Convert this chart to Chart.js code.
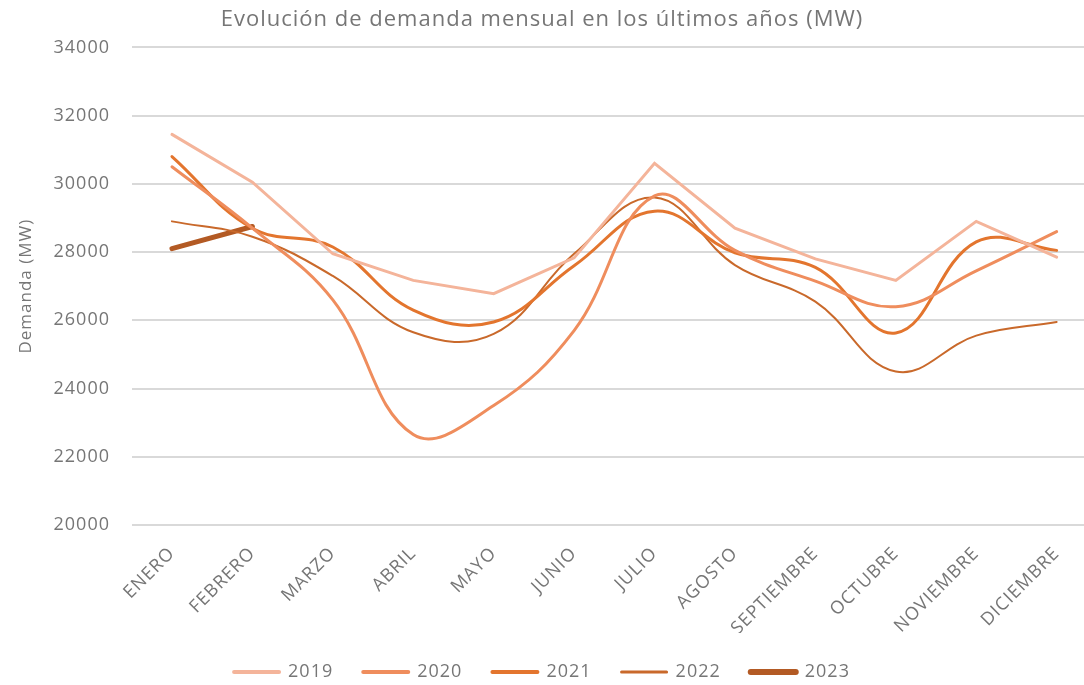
<!DOCTYPE html>
<html>
<head>
<meta charset="utf-8">
<script src="https://cdn.jsdelivr.net/npm/chart.js@4/dist/chart.umd.min.js"></script>
<style>
  html, body { margin: 0; padding: 0; background: #ffffff; overflow: hidden; }
  #wrap { width: 1084px; height: 685px; }
</style>
</head>
<body>
<div id="wrap"><canvas id="demandChart"></canvas></div>
<script>
// =====================================
// Demanda mensual (MW) - datos
// =====================================

const months = ["ENERO","FEBRERO","MARZO","ABRIL","MAYO","JUNIO","JULIO","AGOSTO","SEPTIEMBRE","OCTUBRE","NOVIEMBRE","DICIEMBRE"];

const d2019 = [31450,30050,27950,27170,26780,27830,30600,28700,27800,27170,28900,27850];
const d2020 = [30500,28700,26600,22650,23500,25700,29650,28050,27150,26400,27450,28600];
const d2021 = [30800,28700,28150,26300,25950,27600,29200,27980,27550,25630,28300,28050];
const d2022 = [28900,28450,27300,25650,25600,27950,29600,27620,26550,24500,25550,25950];
const d2023 = [28100,28750];

const yTicks = [20000,22000,24000,26000,28000,30000,32000,34000];

const textColor = "#767676";
const fontFamily = "'Open Sans', Lato, sans-serif";

// points for the linear x axis
function toPoints(values){
    return values.map((v,i) => ({x:i, y:v}));
}

function makeSet(label, values, color, width, tension){
    return {
        label: label,
        data: toPoints(values),
        borderColor: color,
        backgroundColor: color,
        borderWidth: width,
        tension: tension,
        pointRadius: 0,
        pointHoverRadius: 0,
        borderCapStyle: "round",
        fill: false
    };
}

const datasets = [
    makeSet("2019", d2019, "#F4B49A", 3, 0),
    makeSet("2020", d2020, "#EF8D5D", 3, 0.4),
    makeSet("2021", d2021, "#E3752E", 3, 0.4),
    makeSet("2022", d2022, "#C9692B", 2, 0.4),
    makeSet("2023", d2023, "#B35A24", 5, 0)
];

// a bit of letter spacing, the original font is wide
const spacingPlugin = {
    id: "spacing",
    beforeUpdate: (chart) => { chart.ctx.letterSpacing = "1px"; },
    beforeDraw: (chart) => { chart.ctx.letterSpacing = "1px"; }
};

new Chart(document.getElementById("demandChart"), {
    type: "line",
    data: { datasets: datasets },
    plugins: [spacingPlugin],
    options: {
        responsive: true,
        maintainAspectRatio: false,
        animation: false,
        layout: { padding: { left: 0, right: 0, top: 0, bottom: -6 } },
        plugins: {
            title: {
                display: true,
                text: "Evolución de demanda mensual en los últimos años (MW)",
                color: textColor,
                font: { family: fontFamily, size: 22, weight: "normal" },
                padding: { top: 7, bottom: 14 }
            },
            legend: {
                position: "bottom",
                labels: {
                    color: textColor,
                    font: { family: fontFamily, size: 18 },
                    usePointStyle: true,
                    pointStyle: "line",
                    pointStyleWidth: 45,
                    padding: 30,
                    generateLabels: (chart) => chart.data.datasets.map((ds, i) => ({
                        text: ds.label,
                        strokeStyle: ds.borderColor,
                        fillStyle: ds.borderColor,
                        lineWidth: ds.borderWidth + 1,
                        lineCap: "round",
                        pointStyle: "line",
                        fontColor: textColor,
                        datasetIndex: i
                    }))
                }
            },
            tooltip: { enabled: false }
        },
        scales: {
            x: {
                type: "linear",
                min: -0.497,
                max: 11.34,
                afterBuildTicks: (scale) => {
                    scale.ticks = months.map((m, i) => ({ value: i }));
                },
                afterFit: (scale) => { scale.height = 108; },
                grid: { display: false },
                border: { display: false },
                ticks: {
                    autoSkip: false,
                    minRotation: 45,
                    maxRotation: 45,
                    padding: 10,
                    color: textColor,
                    font: { family: fontFamily, size: 18 },
                    callback: (value) => months[value] || ""
                }
            },
            y: {
                min: 20000,
                max: 34000,
                afterBuildTicks: (scale) => {
                    scale.ticks = yTicks.map(v => ({ value: v }));
                },
                afterFit: (scale) => { scale.width = 132; },
                grid: { color: "#d9d9d9", lineWidth: 2, drawTicks: false },
                border: { display: false },
                ticks: {
                    padding: 22,
                    color: textColor,
                    font: { family: fontFamily, size: 18 },
                    callback: (value) => String(value)
                },
                title: {
                    display: true,
                    text: "Demanda (MW)",
                    color: textColor,
                    font: { family: fontFamily, size: 17 },
                    padding: { top: 16, bottom: 0 }
                }
            }
        }
    }
});
</script>
</body>
</html>
